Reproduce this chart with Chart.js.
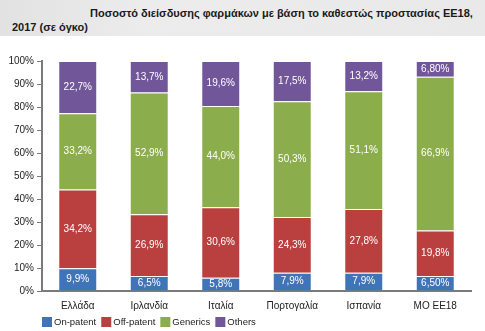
<!DOCTYPE html>
<html>
<head>
<meta charset="utf-8">
<script src="https://cdn.jsdelivr.net/npm/chart.js@4"></script>
<style>
  body { margin: 0; background: #fff; font-family: "Liberation Sans", Arial, sans-serif; }
  #wrap { position: relative; width: 485px; height: 331px; overflow: hidden; }
  #title {
    position: absolute; left: 0; top: 0; width: 485px; height: 36px;
    background: linear-gradient(to right, #e2e2e2, #ececec 30%, #e9e9e9);
    font-weight: bold; font-size: 11px; line-height: 14px; color: #1a1a1a;
    box-sizing: border-box; padding: 6px 0 0 12px; white-space: nowrap;
  }
  #title .l1 { padding-left: 78px; }
  #chart-box { position: absolute; left: 0; top: 0; width: 485px; height: 331px; }
</style>
</head>
<body>
<div id="wrap">
  <div id="chart-box"><canvas id="chart-canvas"></canvas></div>
  <div id="title"><span class="l1">Ποσοστό διείσδυσης φαρμάκων με βάση το καθεστώς προστασίας ΕΕ18,</span><br>2017 (σε όγκο)</div>
</div>
<script>
// countries + EU average
const categories = ['Ελλάδα', 'Ιρλανδία', 'Ιταλία', 'Πορτογαλία', 'Ισπανία', 'ΜΟ ΕΕ18']
// shares in %, kept as text so the label shows the same digits as the bar
const on_patent  = ['9.9', '6.5', '5.8', '7.9', '7.9', '6.50']
const off_patent = ['34.2', '26.9', '30.6', '24.3', '27.8', '19.8']
const generics   = ['33.2', '52.9', '44.0', '50.3', '51.1', '66.9']
const others     = ['22.7', '13.7', '19.6', '17.5', '13.2', '6.80']
const y_ticks = [0, 10, 20, 30, 40, 50, 60, 70, 80, 90, 100]

const series = [
    { label: 'On-patent', values: on_patent, color: '#3f74b8' },
    { label: 'Off-patent', values: off_patent, color: '#b9403e' },
    { label: 'Generics', values: generics, color: '#8cad4b' },
    { label: 'Others', values: others, color: '#72569a' },
]

const font_family = '"Liberation Sans", Arial, sans-serif'

// white value text in the middle of every segment
const bar_labels = {
    id: 'bar_labels',
    afterDatasetsDraw(chart) {
        const ctx = chart.ctx
        ctx.save()
        ctx.font = '10px ' + font_family
        ctx.fillStyle = '#fff'
        ctx.textAlign = 'center'
        ctx.textBaseline = 'middle'
        chart.data.datasets.forEach((ds, i) => {
            chart.getDatasetMeta(i).data.forEach((bar, j) => {
                const mid = (bar.y + bar.base) / 2
                ctx.fillText(ds.raw[j].replace('.', ',') + '%', bar.x, mid)
            })
        })
        ctx.restore()
    }
}

// compact legend under the x axis, starting at the y axis line
const bottom_legend = {
    id: 'bottom_legend',
    afterDraw(chart) {
        const ctx = chart.ctx
        const box = 10
        let x = chart.chartArea.left
        const y = chart.height - 9
        ctx.save()
        ctx.font = '9.5px ' + font_family
        ctx.textBaseline = 'middle'
        ctx.textAlign = 'left'
        chart.data.datasets.forEach(ds => {
            ctx.fillStyle = ds.backgroundColor
            ctx.fillRect(x, y - box / 2, box, box)
            x += box + 2
            ctx.fillStyle = '#222'
            ctx.fillText(ds.label, x, y)
            x += ctx.measureText(ds.label).width + 5
        })
        ctx.restore()
    }
}

const chart_canvas = document.getElementById('chart-canvas')
new Chart(chart_canvas, {
    type: 'bar',
    data: {
        labels: categories,
        datasets: series.map(s => ({
            label: s.label,
            raw: s.values,
            data: s.values.map(v => parseFloat(v)),
            backgroundColor: s.color,
            borderColor: 'rgba(255,255,255,0.35)',
            borderWidth: 1,
            barPercentage: 0.545,
            categoryPercentage: 1,
        }))
    },
    options: {
        responsive: true,
        maintainAspectRatio: false,
        animation: false,
        layout: { padding: { top: 61, right: 14, left: 0, bottom: 16 } },
        plugins: {
            legend: { display: false },
            tooltip: { enabled: false },
        },
        scales: {
            x: {
                stacked: true,
                grid: { display: false },
                border: { display: true, color: '#7a7a7a', width: 2 },
                ticks: {
                    color: '#222', padding: 1,
                    font: { family: font_family, size: 10 },
                },
                afterFit: (scale) => { scale.height = 24 },
            },
            y: {
                stacked: true,
                min: 0, max: 100,
                afterBuildTicks: (scale) => { scale.ticks = y_ticks.map(v => ({ value: v })) },
                grid: { drawOnChartArea: false, drawTicks: true, tickLength: 5, color: '#7a7a7a' },
                border: { display: true, color: '#7a7a7a', width: 2 },
                ticks: {
                    color: '#222', padding: 3,
                    font: { family: font_family, size: 10 },
                    callback: (v) => v + '%',
                },
                afterFit: (scale) => { scale.width = 42 },
            },
        },
    },
    plugins: [bar_labels, bottom_legend],
})
</script>
</body>
</html>
